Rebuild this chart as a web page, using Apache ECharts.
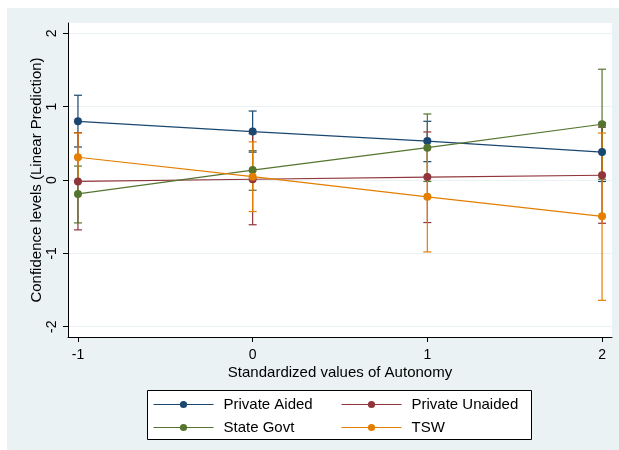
<!DOCTYPE html>
<html>
<head>
<meta charset="utf-8">
<script src="https://cdn.jsdelivr.net/npm/echarts@6/dist/echarts.min.js"></script>
<style>
html,body{margin:0;padding:0;background:#fff;}
#chart{width:619px;height:450px;}
</style>
</head>
<body>
<div id="chart"></div>
<script>
var xValues = [-1, 0, 1, 2];
var xTicks = [-1, 0, 1, 2];
var yTicks = [-2, -1, 0, 1, 2];

var seriesNames = ['Private Aided', 'Private Unaided', 'State Govt', 'TSW'];
var seriesColors = ['#1a476f', '#90353b', '#55752f', '#e37e00'];

var aidedMean = [0.80, 0.66, 0.53, 0.38];
var aidedLow = [0.45, 0.38, 0.25, -0.02];
var aidedHigh = [1.155, 0.94, 0.80, 0.78];

var unaidedMean = [-0.02, 0.01, 0.04, 0.065];
var unaidedLow = [-0.68, -0.61, -0.58, -0.59];
var unaidedHigh = [0.645, 0.63, 0.655, 0.72];

var stateMean = [-0.19, 0.135, 0.44, 0.76];
var stateLow = [-0.585, -0.14, -0.02, 0.01];
var stateHigh = [0.19, 0.40, 0.90, 1.51];

var tswMean = [0.31, 0.045, -0.23, -0.495];
var tswLow = [-0.02, -0.43, -0.98, -1.64];
var tswHigh = [0.64, 0.52, 0.52, 0.64];

var means = [aidedMean, unaidedMean, stateMean, tswMean];
var lows = [aidedLow, unaidedLow, stateLow, tswLow];
var highs = [aidedHigh, unaidedHigh, stateHigh, tswHigh];

var FONT = '"Liberation Sans", Arial, sans-serif';

var series = [];
for (var s = 0; s < 4; s++) {
  (function (s) {
    var data = xValues.map(function (x, i) { return [x, lows[s][i], highs[s][i]]; });
    series.push({
      type: 'custom',
      name: seriesNames[s] + ' CI',
      z: 2 + s * 0.1,
      silent: true,
      data: data,
      encode: { x: 0, y: [1, 2] },
      renderItem: function (params, api) {
        var x = api.value(0);
        var lo = api.coord([x, api.value(1)]);
        var hi = api.coord([x, api.value(2)]);
        var hw = 4;
        var st = { stroke: seriesColors[s], lineWidth: 1.2 };
        return {
          type: 'group',
          children: [
            { type: 'line', shape: { x1: lo[0], y1: lo[1], x2: hi[0], y2: hi[1] }, style: st },
            { type: 'line', shape: { x1: lo[0] - hw, y1: lo[1], x2: lo[0] + hw, y2: lo[1] }, style: st },
            { type: 'line', shape: { x1: hi[0] - hw, y1: hi[1], x2: hi[0] + hw, y2: hi[1] }, style: st }
          ]
        };
      }
    });
  })(s);
}
for (var s2 = 0; s2 < 4; s2++) {
  series.push({
    type: 'line',
    name: seriesNames[s2],
    z: 5 + s2 * 0.1,
    data: xValues.map(function (x, i) { return [x, means[s2][i]]; }),
    symbol: 'circle',
    symbolSize: 8,
    showSymbol: true,
    color: seriesColors[s2],
    lineStyle: { color: seriesColors[s2], width: 1.2 },
    itemStyle: { color: seriesColors[s2] }
  });
}

var legendCommon = {
  orient: 'vertical', top: 397, z: 20, padding: 0,
  itemWidth: 60, itemHeight: 9, itemGap: 8,
  lineStyle: { width: 1 },
  textStyle: { fontFamily: FONT, fontSize: 15, color: '#000', padding: [0, 0, 0, 5] }
};

var chart = echarts.init(document.getElementById('chart'), null, { renderer: 'canvas' });
chart.setOption({
  animation: false,
  backgroundColor: '#ffffff',
  graphic: [
    { type: 'rect', z: -10, shape: { x: 7, y: 8, width: 620, height: 450 }, style: { fill: '#eaf2f3' } },
    { type: 'rect', z: 10, shape: { x: 147.5, y: 390.5, width: 384, height: 49 }, style: { fill: '#ffffff', stroke: '#000000', lineWidth: 1 } }
  ],
  grid: {
    left: 68, top: 23, right: 7, bottom: 113,
    show: true, backgroundColor: '#ffffff', borderWidth: 0
  },
  legend: [
    Object.assign({}, legendCommon, { data: [seriesNames[0], seriesNames[2]], left: 153 }),
    Object.assign({}, legendCommon, { data: [seriesNames[1], seriesNames[3]], left: 341 })
  ],
  xAxis: {
    type: 'value',
    min: -1.057, max: 2.057,
    name: 'Standardized values of Autonomy',
    nameLocation: 'middle', nameGap: 28, nameMoveOverlap: false,
    nameTextStyle: { fontFamily: FONT, fontSize: 15, color: '#000' },
    axisLine: { show: true, onZero: false, lineStyle: { color: '#000', width: 1 } },
    axisTick: { show: true, length: 5, customValues: xTicks, lineStyle: { color: '#000' } },
    axisLabel: { customValues: xTicks, fontFamily: FONT, fontSize: 14, color: '#000', margin: 11 },
    splitLine: { show: false }
  },
  yAxis: {
    type: 'value',
    min: -2.14, max: 2.14,
    name: 'Confidence levels (Linear Prediction)',
    nameLocation: 'middle', nameGap: 24, nameMoveOverlap: false,
    nameTextStyle: { fontFamily: FONT, fontSize: 15, color: '#000' },
    axisLine: { show: true, onZero: false, lineStyle: { color: '#000', width: 1 } },
    axisTick: { show: true, length: 5, customValues: yTicks, lineStyle: { color: '#000' } },
    axisLabel: { customValues: yTicks, rotate: 90, fontFamily: FONT, fontSize: 14, color: '#000', margin: 9 },
    splitLine: { show: true, lineStyle: { color: '#eaf2f3', width: 1 } }
  },
  series: series
});
</script>
</body>
</html>
